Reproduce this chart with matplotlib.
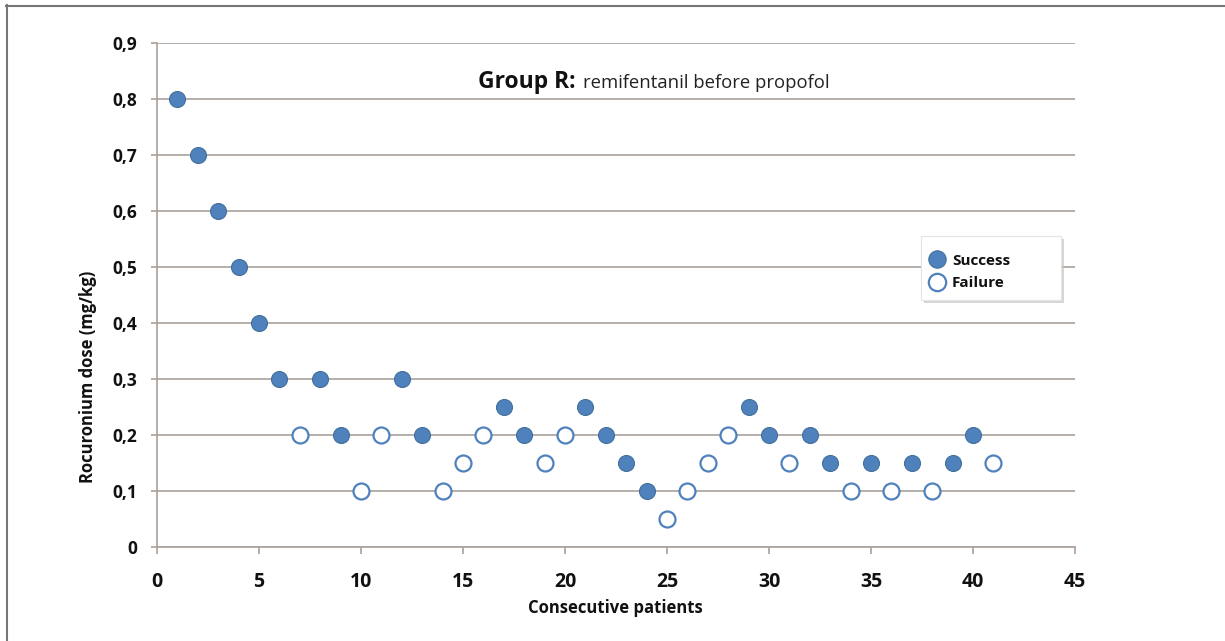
import matplotlib
matplotlib.use("Agg")
import matplotlib.pyplot as plt
from matplotlib.lines import Line2D
from matplotlib.patches import Rectangle

plt.rcParams['font.family'] = ['Open Sans', 'DejaVu Sans']

patients = list(range(1, 42))
dose = [0.80, 0.70, 0.60, 0.50, 0.40, 0.30, 0.20, 0.30, 0.20, 0.10,
        0.20, 0.30, 0.20, 0.10, 0.15, 0.20, 0.25, 0.20, 0.15, 0.20,
        0.25, 0.20, 0.15, 0.10, 0.05, 0.10, 0.15, 0.20, 0.25, 0.20,
        0.15, 0.20, 0.15, 0.10, 0.15, 0.10, 0.15, 0.10, 0.15, 0.20,
        0.15]
outcome = ['S', 'S', 'S', 'S', 'S', 'S', 'F', 'S', 'S', 'F',
           'F', 'S', 'S', 'F', 'F', 'F', 'S', 'S', 'F', 'F',
           'S', 'S', 'S', 'S', 'F', 'F', 'F', 'F', 'S', 'S',
           'F', 'S', 'S', 'F', 'S', 'F', 'S', 'F', 'S', 'S',
           'F']
xticks = [0, 5, 10, 15, 20, 25, 30, 35, 40, 45]
yticks = [0, 0.1, 0.2, 0.3, 0.4, 0.5, 0.6, 0.7, 0.8, 0.9]
ytick_labels = ['0', '0,1', '0,2', '0,3', '0,4', '0,5', '0,6', '0,7', '0,8', '0,9']

blue = '#4f81bd'
edge_blue = '#41719c'
grid_col = '#a9a19b'
txt = '#111111'

fig = plt.figure(figsize=(12.25, 6.41), dpi=100)
ax = fig.add_axes([157/1225, 1-547/641, (1075-157)/1225, (547-43)/641])

sx = [p for p, o in zip(patients, outcome) if o == 'S']
sy = [d for d, o in zip(dose, outcome) if o == 'S']
fx = [p for p, o in zip(patients, outcome) if o == 'F']
fy = [d for d, o in zip(dose, outcome) if o == 'F']

ax.plot(sx, sy, 'o', ms=11.5, mfc=blue, mec=edge_blue, mew=0.8, zorder=3, clip_on=False)
ax.plot(fx, fy, 'o', ms=11.5, mfc='white', mec=blue, mew=1.6, zorder=3, clip_on=False)

ax.set_xlim(0, 45)
ax.set_ylim(0, 0.9)
ax.set_xticks(xticks)
ax.set_xticklabels([str(x) for x in xticks])
ax.set_yticks(yticks)
ax.set_yticklabels(ytick_labels)
for s in ['top', 'right']:
    ax.spines[s].set_visible(False)
for s in ['left', 'bottom']:
    ax.spines[s].set_color(grid_col)
    ax.spines[s].set_linewidth(1.2)
ax.yaxis.grid(True, color=grid_col, lw=1.2)
ax.set_axisbelow(True)
ax.tick_params(axis='y', length=4, width=1.2, color=grid_col, pad=10,
               labelsize=12.5, labelcolor=txt)
ax.tick_params(axis='x', length=5, width=1.2, color=grid_col, pad=13,
               labelsize=14, labelcolor=txt)
for lab in ax.get_xticklabels() + ax.get_yticklabels():
    lab.set_fontweight('bold')

fig.text(615/1225, 1-608/641, 'Consecutive patients', ha='center', va='center',
         fontsize=12, fontweight='bold', color=txt)
fig.text(88/1225, 1-377/641, 'Rocuronium dose (mg/kg)', ha='center', va='center',
         rotation=90, fontsize=12, fontweight='bold', color=txt)

fig.text(576/1225, 1-82/641, 'Group R:', ha='right', va='center',
         fontsize=16.5, fontweight='bold', color=txt)
fig.text(583/1225, 1-83/641, 'remifentanil before propofol', ha='left', va='center',
         fontsize=13.3, color='#222222')

# legend box with shadow
lx0, ly0, lw_, lh_ = 921, 236, 140, 64
shadow = Rectangle(((lx0+3)/1225, 1-(ly0+lh_+3)/641), lw_/1225, lh_/641,
                   transform=fig.transFigure, facecolor='#c8c4c0', edgecolor='none',
                   alpha=0.7, zorder=4)
box = Rectangle((lx0/1225, 1-(ly0+lh_)/641), lw_/1225, lh_/641,
                transform=fig.transFigure, facecolor='white', edgecolor='#e4e4e4',
                lw=0.8, zorder=4.5)
fig.add_artist(shadow)
fig.add_artist(box)

handles = [Line2D([], [], ls='none', marker='o', ms=12.5, mfc=blue, mec=edge_blue, mew=0.8),
           Line2D([], [], ls='none', marker='o', ms=12.5, mfc='white', mec=blue, mew=1.6)]
leg = fig.legend(handles, ['Success', 'Failure'], loc='upper left',
                 bbox_to_anchor=(922/1225, 1-246/641),
                 frameon=False, handletextpad=0.45,
                 borderpad=0.0, labelspacing=0.55, handlelength=1.0,
                 prop={'weight': 'bold', 'size': 11})
leg.set_zorder(6)
for t in leg.get_texts():
    t.set_color(txt)

# figure frame (top and left edges)
fig.add_artist(Line2D([6/1225, 1], [1-5.5/641, 1-5.5/641], transform=fig.transFigure,
                      color='#777777', lw=1.5))
fig.add_artist(Line2D([6.5/1225, 6.5/1225], [0, 1-5/641], transform=fig.transFigure,
                      color='#777777', lw=1.5))

fig.savefig('out.png', dpi=100)
